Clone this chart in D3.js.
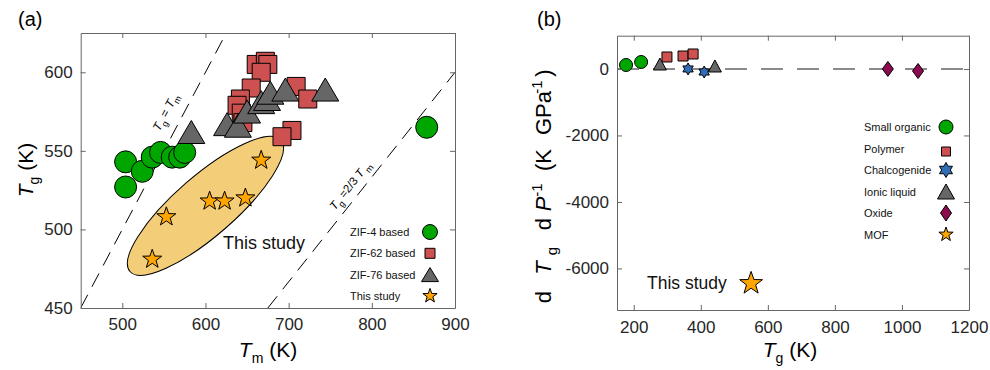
<!DOCTYPE html>
<html><head><meta charset="utf-8">
<script src="https://cdn.jsdelivr.net/npm/d3@7"></script>
<style>
body{margin:0;background:#fff;}
svg{font-family:"Liberation Sans",Arial,Helvetica,sans-serif;}
.tick text{fill:#262626;font-size:17px;}
.tick line{stroke:#666;}
.domain{stroke:#666;}
</style></head>
<body><svg id="c" width="990" height="370"></svg>
<script>
// ---------- Panel (a) data ----------
const zif4Tm  = [504, 504, 524, 536, 546, 560, 569, 575, 866];
const zif4Tg  = [543, 527, 537, 546, 549, 546, 546, 549, 565];
const zif62Tm = [661, 672, 675, 667, 655, 709, 723, 642, 638, 643, 645, 704, 692];
const zif62Tg = [605, 607, 605, 600, 590, 591, 583, 583, 579, 574, 568, 563, 559];
const zif76Tm = [583, 626, 639, 650, 667, 674, 678, 696, 744];
const zif76Tg = [562, 567, 566, 575, 581, 583, 587, 589, 589];
const studyTm = [536, 553, 605, 623, 648, 667];
const studyTg = [481, 508, 518, 518, 520, 544];
const aXTicks = [500, 600, 700, 800, 900];
const aYTicks = [450, 500, 550, 600];
const aLegend = ["ZIF-4 based", "ZIF-62 based", "ZIF-76 based", "This study"];

// ---------- Panel (b) data ----------
const smallOrganicTg = [177, 222];
const smallOrganicSlope = [119, 209];
const polymerTg = [299, 347, 377];
const polymerSlope = [359, 389, 450];
const chalcoTg = [362, 410];
const chalcoSlope = [0, -92];
const ionicTg = [278, 442];
const ionicSlope = [149, 89];
const oxideTg = [958, 1048];
const oxideSlope = [0, -62];
const mofTg = [550];
const mofSlope = [-6450];
const bXTicks = [200, 400, 600, 800, 1000, 1200];
const bYTicks = [0, -2000, -4000, -6000];
const bLegend = ["Small organic", "Polymer", "Chalcogenide", "Ionic liquid", "Oxide", "MOF"];

// ---------- colours ----------
const GREEN = "#00a600", RED = "#cd5151", GRAY = "#666666", BLUE = "#2f6db5",
      PURPLE = "#8c0a4e", ORANGE = "#ffa500", ELL = "#f4cd78";

// ---------- symbol paths ----------
function star5(r){ let p=[]; for(let i=0;i<10;i++){const a=-Math.PI/2+i*Math.PI/5; const rr=i%2?r*0.4:r; p.push([rr*Math.cos(a),rr*Math.sin(a)]);} return "M"+p.map(d=>d.join(",")).join("L")+"Z"; }
function hexagram(r){ let p=[]; for(let i=0;i<12;i++){const a=-Math.PI/2+i*Math.PI/6; const rr=i%2?r*0.577:r; p.push([rr*Math.cos(a),rr*Math.sin(a)]);} return "M"+p.map(d=>d.join(",")).join("L")+"Z"; }
function tri(w,h){ return `M0,${-h/2}L${w/2},${h/2}L${-w/2},${h/2}Z`; }
function diamond(w,h){ return `M0,${-h/2}L${w/2},0L0,${h/2}L${-w/2},0Z`; }
function square(s){ return `M${-s/2},${-s/2}h${s}v${s}h${-s}Z`; }
function circle(r){ return `M${r},0A${r},${r} 0 1,1 ${-r},0A${r},${r} 0 1,1 ${r},0Z`; }
const fmt = d => String(d);

const svg = d3.select("#c");

// ================= Panel (a) =================
const xA = d3.scaleLinear().domain([450, 900]).range([80.7, 455]);
const yA = d3.scaleLinear().domain([450, 625]).range([308, 33]);
const gA = svg.append("g");

gA.append("defs").append("clipPath").attr("id","clipA").append("rect")
  .attr("x",80.7).attr("y",33).attr("width",455-80.7).attr("height",308-33);
const plotA = gA.append("g").attr("clip-path","url(#clipA)");

// ellipse around this-study points
const ec = [xA(600), yA(515)];
plotA.append("ellipse").attr("cx",0).attr("cy",0).attr("rx",100).attr("ry",30)
  .attr("transform",`translate(${ec[0]},${ec[1]}) rotate(-41)`)
  .attr("fill",ELL).attr("stroke","#000").attr("stroke-width",1);

// dashed reference lines
plotA.append("line").attr("x1",xA(450)).attr("y1",yA(450)).attr("x2",xA(625)).attr("y2",yA(625))
  .attr("stroke","#000").attr("stroke-width",1).attr("stroke-dasharray","15,9");
plotA.append("line").attr("x1",xA(675)).attr("y1",yA(450)).attr("x2",xA(900)).attr("y2",yA(600))
  .attr("stroke","#000").attr("stroke-width",1).attr("stroke-dasharray","15,9");

function drawPts(g, xs, ys, sx, sy, path, fill){
  g.selectAll(null).data(xs.map((v,i)=>[v,ys[i]])).enter().append("path")
   .attr("d",path).attr("transform",d=>`translate(${sx(d[0])},${sy(d[1])})`)
   .attr("fill",fill).attr("stroke","#000").attr("stroke-width",1);
}
drawPts(plotA, zif4Tm, zif4Tg, xA, yA, circle(11), GREEN);
drawPts(plotA, zif62Tm, zif62Tg, xA, yA, square(18), RED);
drawPts(plotA, zif76Tm, zif76Tg, xA, yA, tri(27,23), GRAY);
drawPts(plotA, studyTm, studyTg, xA, yA, star5(10), ORANGE);

// axes a
const axA = (g)=>{ g.selectAll(".domain").attr("stroke","#666"); };
gA.append("g").attr("transform","translate(0,308)")
  .call(d3.axisBottom(xA).tickValues(aXTicks).tickFormat(fmt).tickSizeInner(-5).tickSizeOuter(0).tickPadding(10)).call(axA);
gA.append("g").attr("transform","translate(0,33)")
  .call(d3.axisTop(xA).tickValues(aXTicks).tickSizeInner(-5).tickSizeOuter(0).tickFormat("")).call(axA);
gA.append("g").attr("transform","translate(80.7,0)")
  .call(d3.axisLeft(yA).tickValues(aYTicks).tickFormat(fmt).tickSizeInner(-5).tickSizeOuter(0).tickPadding(8)).call(axA);
gA.append("g").attr("transform","translate(455,0)")
  .call(d3.axisRight(yA).tickValues(aYTicks).tickSizeInner(-5).tickSizeOuter(0).tickFormat("")).call(axA);

// line labels
const l1 = gA.append("text").attr("transform","translate(169,114) rotate(-62)").attr("text-anchor","middle").attr("font-size",12);
l1.append("tspan").attr("font-style","italic").text("T");
l1.append("tspan").attr("font-size",9).attr("dy",4).text("g");
l1.append("tspan").attr("dy",-4).text(" = ");
l1.append("tspan").attr("font-style","italic").text("T");
l1.append("tspan").attr("font-size",9).attr("dy",4).text("m");

const l2 = gA.append("text").attr("transform","translate(353,188) rotate(-51.6)").attr("text-anchor","middle").attr("font-size",11.5);
l2.append("tspan").attr("font-style","italic").text("T");
l2.append("tspan").attr("font-size",9).attr("dy",4).text("g");
l2.append("tspan").attr("dy",-4).text(" =2/3 ");
l2.append("tspan").attr("font-style","italic").text("T");
l2.append("tspan").attr("font-size",9).attr("dy",4).text(" m");

gA.append("text").attr("x",223).attr("y",249).attr("font-size",18).attr("fill","#111").text("This study");

// legend a
const legA = gA.append("g");
const aSyms = [circle(7.5), square(10), tri(17,14), star5(7.5)];
const aCols = [GREEN, RED, GRAY, ORANGE];
aLegend.forEach((t,i)=>{
  const y = 232 + i*21.3;
  legA.append("text").attr("x",350).attr("y",y+4).attr("font-size",11).attr("fill","#111").text(t);
  legA.append("path").attr("d",aSyms[i]).attr("transform",`translate(430,${y})`)
    .attr("fill",aCols[i]).attr("stroke","#000").attr("stroke-width",1);
});

// axis labels a
const ya = svg.append("text").attr("transform","translate(33,170) rotate(-90)").attr("text-anchor","middle").attr("font-size",21);
ya.append("tspan").attr("font-style","italic").text("T");
ya.append("tspan").attr("font-size",14).attr("dy",6).text("g");
ya.append("tspan").attr("dy",-6).text(" (K)");
const xa = svg.append("text").attr("x",268).attr("y",357).attr("text-anchor","middle").attr("font-size",21);
xa.append("tspan").attr("font-style","italic").text("T");
xa.append("tspan").attr("font-size",14).attr("dy",6).text("m");
xa.append("tspan").attr("dy",-6).text(" (K)");
svg.append("text").attr("x",18).attr("y",26).attr("font-size",20).text("(a)");

// ================= Panel (b) =================
const xB = d3.scaleLinear().domain([150, 1200]).range([617, 969]);
const yB = d3.scaleLinear().domain([-7250, 1000]).range([310, 35.7]);
const gB = svg.append("g");

gB.append("line").attr("x1",xB(150)).attr("x2",xB(1200)).attr("y1",yB(0)).attr("y2",yB(0))
  .attr("stroke","#666").attr("stroke-width",1.5).attr("stroke-dasharray","22,14");

drawPts(gB, smallOrganicTg, smallOrganicSlope, xB, yB, circle(6.5), GREEN);
drawPts(gB, polymerTg, polymerSlope, xB, yB, square(10), RED);
drawPts(gB, ionicTg, ionicSlope, xB, yB, tri(13,12), GRAY);
drawPts(gB, chalcoTg, chalcoSlope, xB, yB, hexagram(6), BLUE);
drawPts(gB, oxideTg, oxideSlope, xB, yB, diamond(11,15), PURPLE);
drawPts(gB, mofTg, mofSlope, xB, yB, star5(12), ORANGE);

gB.append("g").attr("transform","translate(0,310)")
  .call(d3.axisBottom(xB).tickValues(bXTicks).tickFormat(fmt).tickSizeInner(-5).tickSizeOuter(0).tickPadding(11)).call(axA);
gB.append("g").attr("transform","translate(0,35.7)")
  .call(d3.axisTop(xB).tickValues(bXTicks).tickSizeInner(-5).tickSizeOuter(0).tickFormat("")).call(axA);
gB.append("g").attr("transform","translate(617,0)")
  .call(d3.axisLeft(yB).tickValues(bYTicks).tickFormat(fmt).tickSizeInner(-5).tickSizeOuter(0).tickPadding(8)).call(axA);
gB.append("g").attr("transform","translate(969,0)")
  .call(d3.axisRight(yB).tickValues(bYTicks).tickSizeInner(-5).tickSizeOuter(0).tickFormat("")).call(axA);

gB.append("text").attr("x",647).attr("y",289).attr("font-size",17.5).attr("fill","#111").text("This study");

// legend b
const legB = gB.append("g");
const bSyms = [circle(7), square(9), hexagram(7.5), tri(17,15), diamond(11,16), star5(7.5)];
const bCols = [GREEN, RED, BLUE, GRAY, PURPLE, ORANGE];
bLegend.forEach((t,i)=>{
  const y = 127 + i*21.5;
  legB.append("text").attr("x",864).attr("y",y+4).attr("font-size",11).attr("fill","#111").text(t);
  legB.append("path").attr("d",bSyms[i]).attr("transform",`translate(946,${i===1?y+3:y})`)
    .attr("fill",bCols[i]).attr("stroke","#000").attr("stroke-width",1);
});

// axis label b (pieces placed along the rotated axis)
const yb = svg.append("g").attr("transform","translate(551,0) rotate(-90)").attr("font-size",22);
const ybParts = [
  {t:"d", c:297}, {t:"T", c:268, it:true}, {t:"g", c:251, sub:true},
  {t:"d", c:224}, {t:"P", c:204, it:true}, {t:"-1", c:190, sup:true},
  {t:"(K", c:160}, {t:"GPa", c:113}, {t:"-1", c:87, sup:true}, {t:")", c:73}
];
ybParts.forEach(p=>{
  yb.append("text").attr("x",-p.c).attr("y",p.sub?6:(p.sup?-9:0)).attr("text-anchor","middle")
    .attr("font-size",(p.sub||p.sup)?15:22).attr("font-style",p.it?"italic":"normal").text(p.t);
});

const xb = svg.append("text").attr("x",790).attr("y",357).attr("text-anchor","middle").attr("font-size",21);
xb.append("tspan").attr("font-style","italic").text("T");
xb.append("tspan").attr("font-size",14).attr("dy",6).text("g");
xb.append("tspan").attr("dy",-6).text(" (K)");
svg.append("text").attr("x",537).attr("y",26).attr("font-size",20).text("(b)");
</script></body></html>
